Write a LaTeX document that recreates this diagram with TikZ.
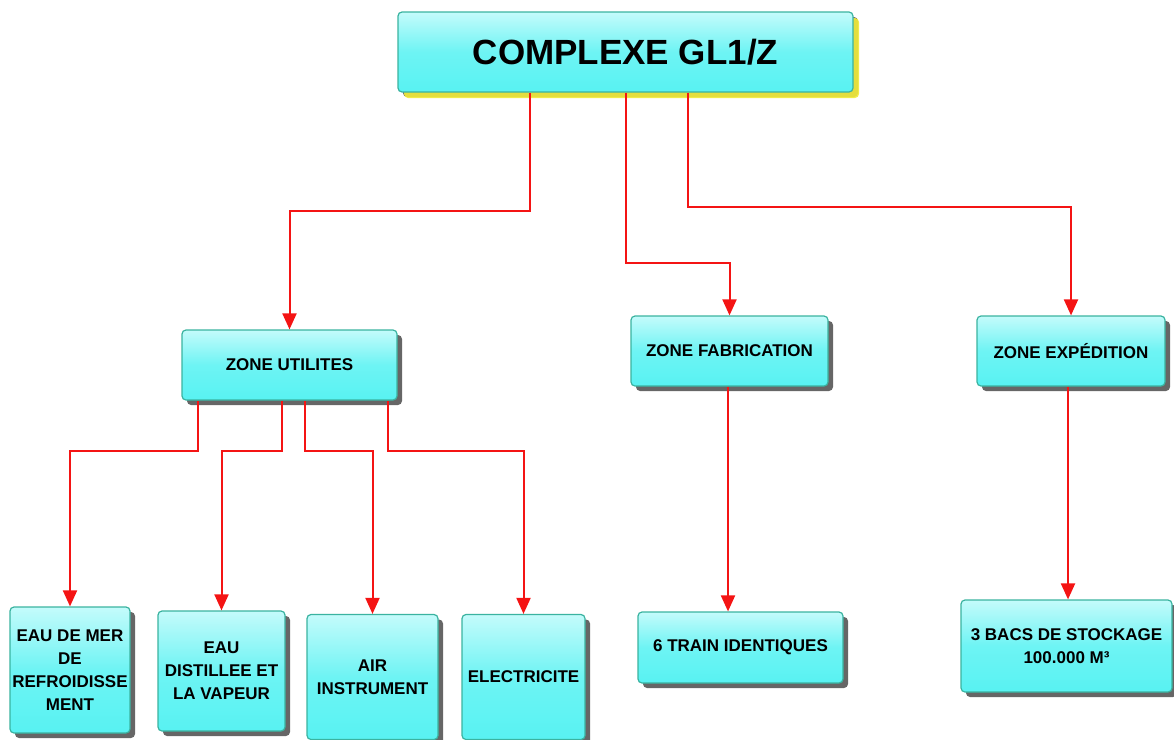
\documentclass[tikz,border=0pt]{standalone}
\usepackage{fontspec}
\setmainfont{Liberation Sans}
\usetikzlibrary{arrows.meta,shadows,calc}
\definecolor{boxtop}{HTML}{C4FBFB}
\definecolor{boxbot}{HTML}{58F2F2}
\definecolor{boxedge}{HTML}{3AB3A0}
\definecolor{linered}{HTML}{F41414}
\definecolor{shyellow}{HTML}{F2EC3A}
\tikzset{
  box/.style={draw=boxedge, line width=1.2pt, rounded corners=4pt,
    top color=boxtop, bottom color=boxbot, middle color=boxbot!80!boxtop,
    align=center, inner sep=1pt, font=\bfseries\fontsize{17}{23}\selectfont,
    drop shadow={shadow xshift=5pt, shadow yshift=-5pt, fill=black, opacity=0.6}},
  topbox/.style={box, font=\bfseries\fontsize{35}{40}\selectfont,
    drop shadow={shadow xshift=6pt, shadow yshift=-6pt, fill=shyellow, opacity=0.9}},
  conn/.style={draw=linered, line width=2pt, -{Triangle[width=14pt,length=16pt,fill=linered]}}
}
\begin{document}
\begin{tikzpicture}[x=1pt,y=-1pt]
\useasboundingbox (0,0) rectangle (1174,739);
\node[topbox, minimum width=455pt, minimum height=80pt] (top) at (625.5,52) {COMPLEXE GL1/Z};
\node[box, minimum width=215pt, minimum height=70pt] (zu) at (289.5,365) {ZONE UTILITES};
\node[box, minimum width=197pt, minimum height=70pt] (zf) at (729.5,351) {ZONE FABRICATION};
\node[box, minimum width=188pt, minimum height=70pt] (ze) at (1071,351) {ZONE EXPÉDITION};
\node[box, minimum width=120pt, minimum height=126pt] (mer) at (70,670) {EAU DE MER\\DE\\REFROIDISSE\\MENT};
\node[box, minimum width=127pt, minimum height=120pt] (dist) at (221.5,671) {EAU\\DISTILLEE ET\\LA VAPEUR};
\node[box, minimum width=131pt, minimum height=125pt] (air) at (372.5,677) {AIR\\INSTRUMENT};
\node[box, minimum width=123pt, minimum height=125pt] (elec) at (523.5,677) {ELECTRICITE};
\node[box, minimum width=205pt, minimum height=71pt] (train) at (740.5,647.5) {6 TRAIN IDENTIQUES};
\node[box, minimum width=211pt, minimum height=92pt] (bacs) at (1066.5,646) {3 BACS DE STOCKAGE\\100.000 M³};

\draw[conn] ([xshift=-95.5pt]top.south) -- ++(0,118) -| (zu.north);
\draw[conn] ([xshift=0.5pt]top.south) -- ++(0,170) -| (zf.north);
\draw[conn] ([xshift=62.5pt]top.south) -- ++(0,114) -| (ze.north);

\draw[conn] ([xshift=-91.5pt]zu.south) -- ++(0,50) -| (mer.north);
\draw[conn] ([xshift=-7.5pt]zu.south) -- ++(0,50) -| (dist.north);
\draw[conn] ([xshift=15.5pt]zu.south) -- ++(0,50) -| (air.north);
\draw[conn] ([xshift=98.5pt]zu.south) -- ++(0,50) -| (elec.north);

\draw[conn] ([xshift=-1.5pt]zf.south) -- ([xshift=-1.5pt]zf.south |- train.north);
\draw[conn] ([xshift=-3pt]ze.south) -- ([xshift=-3pt]ze.south |- bacs.north);
\end{tikzpicture}
\end{document}
